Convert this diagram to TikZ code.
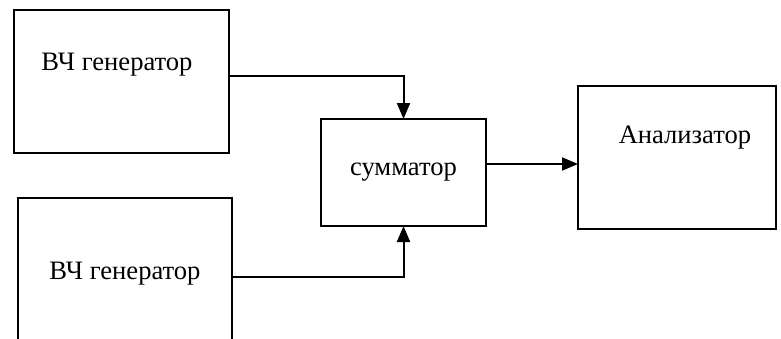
\documentclass[tikz,border=0pt]{standalone}
\usepackage{fontspec}
\setmainfont{Liberation Serif}
\usetikzlibrary{arrows.meta}

\tikzset{
  blok/.style={draw, line width=1pt, inner sep=0pt, outer sep=0pt},
  strelka/.style={line width=1pt, -{Triangle[length=8pt,width=6.5pt]}}
}

\begin{document}
\begin{tikzpicture}[x=0.5pt,y=-0.5pt]
    \useasboundingbox (0,0) rectangle (781,338);
    \fontsize{13.3}{16}\selectfont
    % bloki
    \node[blok, minimum width=107.5pt, minimum height=71.5pt] (gen1) at (121.5,81.5) {};
    \node[blok, minimum width=107pt, minimum height=76pt] (gen2) at (125,274) {ВЧ генератор};
    \node[blok, minimum width=82.5pt, minimum height=53.5pt] (summ) at (403.5,172.5) {сумматор};
    \node[blok, minimum width=99pt, minimum height=71.5pt] (anal) at (677,157.5) {};
    \node (gen1txt) at (117,65) {ВЧ генератор};
    \node (analtxt) at (685,138) {Анализатор};
    % svyazi
    \draw[strelka] (gen1.east |- 0,76) -| (summ.north);
    \draw[strelka] (gen2.east |- 0,277) -| (summ.south);
    \draw[strelka] (summ.east |- 0,164) -- (anal.west |- 0,164);
  \end{tikzpicture}
\end{document}
